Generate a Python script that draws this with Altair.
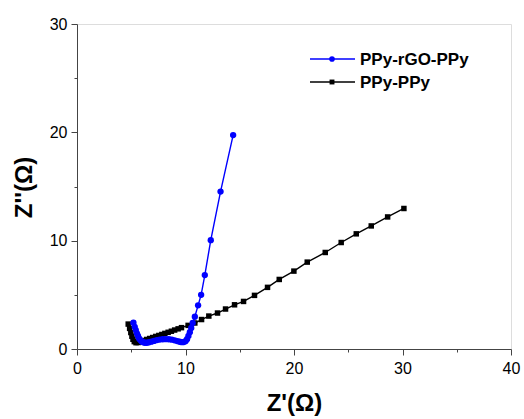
import altair as alt
import pandas as pd

# Nyquist data: Z' (real) vs Z'' (imaginary), in ohms
blue_name = "PPy-rGO-PPy"
blue_x = [5.20, 5.32, 5.42, 5.52, 5.62, 5.72, 5.84, 5.96, 6.10, 6.26, 6.44, 6.64, 6.86,
          7.10, 7.36, 7.62, 7.90, 8.18, 8.46, 8.74, 9.00, 9.24, 9.46, 9.66, 9.84, 10.00,
          10.14, 10.27, 10.40, 10.53, 10.66, 10.86, 11.16, 11.44, 11.78, 12.33, 13.23, 14.39]
blue_y = [2.42, 2.05, 1.75, 1.45, 1.20, 0.98, 0.82, 0.70, 0.62, 0.58, 0.58, 0.62, 0.68,
          0.75, 0.82, 0.87, 0.90, 0.91, 0.90, 0.86, 0.80, 0.73, 0.67, 0.63, 0.64, 0.72,
          0.90, 1.20, 1.55, 1.95, 2.40, 2.98, 4.03, 5.00, 6.82, 10.05, 14.53, 19.75]

black_name = "PPy-PPy"
black_x = [4.72, 4.85, 4.96, 5.06, 5.16, 5.28, 5.44, 5.64, 5.88, 6.14, 6.42, 6.70, 6.98,
           7.26, 7.54, 7.82, 8.10, 8.40, 8.70, 9.00, 9.32, 9.63, 10.24, 10.86, 11.48,
           12.15, 12.95, 13.69, 14.52, 15.35, 16.36, 17.56, 18.64, 19.99, 21.22, 22.88,
           24.35, 25.74, 27.12, 28.63, 30.13]
black_y = [2.30, 1.90, 1.52, 1.18, 0.90, 0.68, 0.58, 0.60, 0.68, 0.78, 0.88, 0.97, 1.06,
           1.16, 1.25, 1.34, 1.44, 1.54, 1.64, 1.75, 1.86, 1.97, 2.18, 2.40, 2.72,
           3.04, 3.32, 3.69, 4.08, 4.39, 4.95, 5.69, 6.42, 7.19, 8.02, 8.91,
           9.83, 10.63, 11.36, 12.19, 12.97]

x_major = [0, 10, 20, 30, 40]
x_minor = [5, 15, 25, 35]
y_major = [0, 10, 20, 30]
y_minor = [5, 15, 25]

FONT = "Liberation Sans"
AXIS_COLOR = "#444444"
BLUE = "#0000ff"
BLACK = "#000000"

blue_df = pd.DataFrame({"zr": blue_x, "zi": blue_y, "idx": range(len(blue_x))})
black_df = pd.DataFrame({"zr": black_x, "zi": black_y, "idx": range(len(black_x))})

x_scale = alt.Scale(domain=[0, 40], nice=False, zero=False)
y_scale = alt.Scale(domain=[0, 30], nice=False, zero=False)

x_axis = alt.Axis(
    orient="bottom", values=x_major, title="Z'(Ω)", titleFont=FONT, titleFontSize=24,
    titleFontWeight="bold", titleColor="black", titleBaseline="alphabetic",
    titleY=61, titleX=217,
    labelFont=FONT, labelFontSize=16, labelColor="black", labelPadding=5,
    tickSize=6, tickColor=AXIS_COLOR, domainColor=AXIS_COLOR, grid=False,
    labelFlush=False, labelOverlap=False,
)
y_axis = alt.Axis(
    orient="left", values=y_major, title="Z''(Ω)", titleFont=FONT, titleFontSize=24,
    titleFontWeight="bold", titleColor="black", titleBaseline="alphabetic",
    titleAngle=270, titleX=-46, titleY=163,
    labelFont=FONT, labelFontSize=16, labelColor="black", labelPadding=4,
    tickSize=6, tickColor=AXIS_COLOR, domainColor=AXIS_COLOR, grid=False,
    labelFlush=False, labelOverlap=False,
)
x_minor_axis = alt.Axis(orient="bottom", values=x_minor, labels=False, title=None, tickSize=3,
                        tickColor=AXIS_COLOR, domain=False, grid=False)
y_minor_axis = alt.Axis(orient="left", values=y_minor, labels=False, title=None, tickSize=3,
                        tickColor=AXIS_COLOR, domain=False, grid=False)


def enc_x(axis):
    return alt.X("zr:Q", scale=x_scale, axis=axis)


def enc_y(axis):
    return alt.Y("zi:Q", scale=y_scale, axis=axis)


# minor tick axes, carried by an invisible layer that shares the scales
minor = alt.Chart(pd.DataFrame({"zr": [0], "zi": [0]})).mark_point(opacity=0).encode(
    x=enc_x(x_minor_axis), y=enc_y(y_minor_axis),
)

black_line = alt.Chart(black_df).mark_line(color=BLACK, strokeWidth=1.4).encode(
    x=enc_x(x_axis), y=enc_y(y_axis), order="idx:Q")
black_pts = alt.Chart(black_df).mark_point(filled=True, shape="square", size=30,
                                           color=BLACK, opacity=1).encode(
    x=enc_x(None), y=enc_y(None))
blue_line = alt.Chart(blue_df).mark_line(color=BLUE, strokeWidth=1.4).encode(
    x=enc_x(None), y=enc_y(None), order="idx:Q")
blue_pts = alt.Chart(blue_df).mark_point(filled=True, shape="circle", size=40,
                                         color=BLUE, opacity=1).encode(
    x=enc_x(None), y=enc_y(None))


# legend entries (line sample + marker + label)
def legend_entry(name, color, shape, size, row_y):
    d = pd.DataFrame({"name": [name]})
    base = alt.Chart(d)
    rule = base.mark_rule(color=color, strokeWidth=1.4).encode(
        x=alt.value(233), x2=alt.value(278), y=alt.value(row_y))
    mark = base.mark_point(filled=True, shape=shape, size=size, color=color, opacity=1).encode(
        x=alt.value(255), y=alt.value(row_y))
    label = base.mark_text(align="left", baseline="middle", font=FONT, fontSize=17,
                           fontWeight="bold", color="black").encode(
        x=alt.value(283), y=alt.value(row_y + 1), text="name:N")
    return rule + mark + label


chart = alt.layer(
    minor,
    black_line, black_pts,
    blue_line, blue_pts,
    legend_entry(blue_name, BLUE, "circle", 32, 35),
    legend_entry(black_name, BLACK, "square", 24, 58),
).resolve_axis(x="independent", y="independent").properties(
    width=434, height=325,
    autosize=alt.AutoSizeParams(type="none"),
    padding={"left": 77, "top": 24, "right": 13, "bottom": 70},
).configure_view(stroke=AXIS_COLOR, strokeWidth=1).configure(background="white")

chart.save("out.html", embed_options={"renderer": "svg", "actions": False})
